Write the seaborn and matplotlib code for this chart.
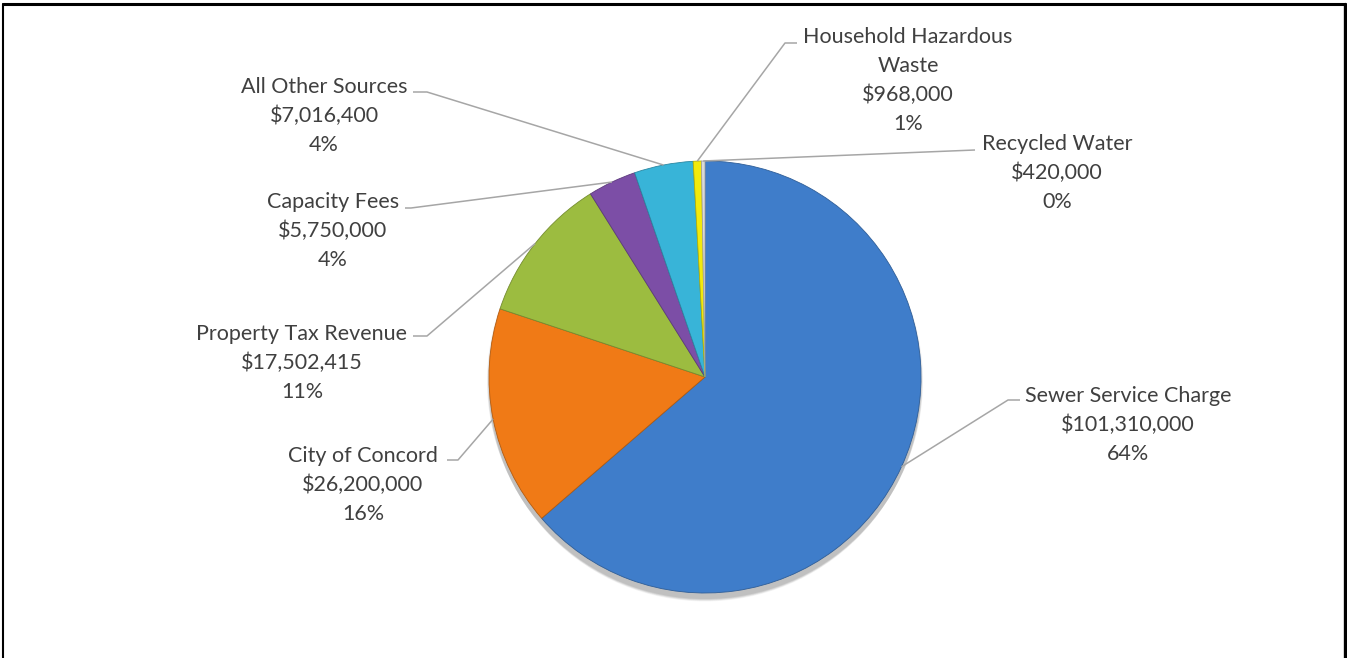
import numpy as np
import matplotlib
matplotlib.use("Agg")
import matplotlib.pyplot as plt
import seaborn as sns

# data
sources = ["Sewer Service Charge", "City of Concord", "Property Tax Revenue",
           "Capacity Fees", "All Other Sources", "Household Hazardous\nWaste",
           "Recycled Water"]
amounts = [101310000, 26200000, 17502415, 5750000, 7016400, 968000, 420000]
colors = ["#3F7DCA", "#F07A16", "#9CBC40", "#7C4EA6", "#38B4D8", "#F2EA0C", "#DADADA"]

# label layout (pixel coords, y down): text centre x, text top y, elbow, line end
label_xy = [(1128, 386), (363, 446), (302, 324), (333, 192), (324, 77), (908, 27), (1057, 134)]
elbows = [(1008, 400), (458, 460), (427, 336), (411, 208), (427, 92), (785, 43), (975, 150)]
line_ends = [(1020, 400), (447, 460), (413, 336), (405, 208), (413, 92), (797, 43), (975, 150)]

CENTER = (705, 377)
RADIUS = 216

sns.set_theme(style="white")
plt.rcParams["font.family"] = ["Lato", "DejaVu Sans"]

fig = plt.figure(figsize=(13.47, 6.58), dpi=100)
ax = fig.add_axes([0, 0, 1, 1])

# soft shadow under the pie
for k, a in zip(range(6), [0.05, 0.05, 0.05, 0.04, 0.04, 0.03]):
    ax.add_patch(plt.Circle((CENTER[0], CENTER[1] + 4 + k), RADIUS + 2 - k * 0.5,
                            color="black", alpha=a, lw=0, zorder=0))

wedges, _ = ax.pie(amounts, colors=colors, startangle=-90, counterclock=True,
                   center=CENTER, radius=RADIUS,
                   wedgeprops=dict(edgecolor="#7f7f7f", linewidth=0.6, zorder=2))

# darker edge per wedge for a slight bevel feel
for w, c in zip(wedges, colors):
    rgb = np.array(matplotlib.colors.to_rgb(c))
    w.set_edgecolor(rgb * 0.75)

total = sum(amounts)
for i, w in enumerate(wedges):
    mid = np.deg2rad((w.theta1 + w.theta2) / 2)
    px = CENTER[0] + RADIUS * np.cos(mid)
    py = CENTER[1] + RADIUS * np.sin(mid)
    ex, ey = elbows[i]
    lx, ly = line_ends[i]
    ax.plot([px, ex, lx], [py, ey, ly], color="#A6A6A6", lw=1.1, zorder=3,
            solid_capstyle="butt")
    pct = round(amounts[i] / total * 100)
    txt = f"{sources[i]}\n${amounts[i]:,}\n{pct}%"
    tx, ty = label_xy[i]
    ax.text(tx, ty, txt, ha="center", va="top", fontsize=15.5, color="#404040",
            linespacing=1.55, zorder=4)

ax.set_xlim(0, 1347)
ax.set_ylim(658, 0)
ax.set_aspect("equal")
ax.axis("off")

# chart frame (bottom edge is cut off in the source)
ax.plot([3, 3], [658, 3.5], color="black", lw=1.5, clip_on=False)
ax.plot([3, 1345], [3.5, 3.5], color="black", lw=2.2, clip_on=False)
ax.plot([1345, 1345], [3.5, 658], color="black", lw=2.4, clip_on=False)

fig.savefig("out.png", dpi=100)
